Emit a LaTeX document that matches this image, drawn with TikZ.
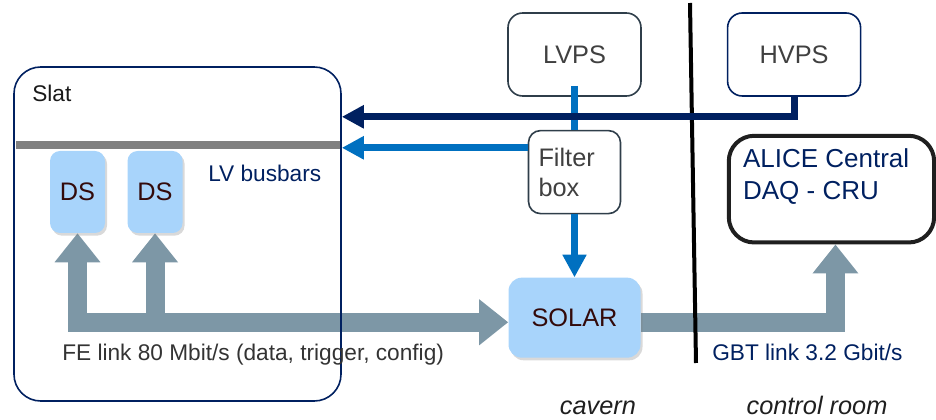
\documentclass[tikz,border=0pt]{standalone}
\usepackage{fontspec}
\setmainfont{Liberation Sans}
\usepackage{tikz}
\usetikzlibrary{arrows.meta,positioning,calc,shadows}

\definecolor{navy}{HTML}{002060}
\definecolor{midblue}{HTML}{0070C0}
\definecolor{linkgray}{HTML}{7D97A6}
\definecolor{chipblue}{HTML}{A8D4FB}
\definecolor{slate}{HTML}{2F3E4A}
\definecolor{chiptext}{HTML}{330A0A}
\definecolor{boxtext}{HTML}{404040}

\newcommand{\boxfont}{\fontsize{19}{22.5}\selectfont}
\newcommand{\notefont}{\fontsize{17}{20}\selectfont}

\pgfdeclarelayer{background}
\pgfsetlayers{background,main}

\begin{document}
\begin{tikzpicture}[
    x=0.75pt, y=-0.75pt,
    slatbox/.style={rectangle, draw=navy, line width=1.2pt, rounded corners=20pt, minimum width=245.25pt, minimum height=250.5pt},
    chip/.style={rectangle, fill=chipblue, rounded corners=7.5pt, text=chiptext, font=\boxfont, drop shadow={shadow xshift=1.5pt, shadow yshift=-2pt, opacity=0.3}},
    psbox/.style={rectangle, draw=slate, fill=white, line width=1.2pt, rounded corners=11pt, minimum width=99.75pt, minimum height=62.25pt, text=boxtext, font=\boxfont},
    crubox/.style={rectangle, draw=black!88, line width=3pt, rounded corners=19pt, minimum width=154pt, minimum height=80pt},
    fatlink/.style={line width=14.25pt, draw=linkgray, -{Triangle[width=33pt, length=21.75pt]}},
    lvline/.style={line width=5.5pt, draw=midblue},
    hvline/.style={line width=5.25pt, draw=navy},
    busbar/.style={line width=6pt, draw=black!50},
    divider/.style={line width=3pt, draw=black},
    note/.style={font=\notefont, inner sep=0pt}
]
    \useasboundingbox (0,0) rectangle (936,420);

    % slat with its front-end chips
    \node [slatbox] (slat) at (177.5,234) {};
    \node [note, anchor=west, text=black!90] (slatlbl) at (32,93) {Slat};
    \draw [busbar] (16,145) -- (340,145);
    \node [chip, minimum width=41.25pt, minimum height=61.5pt] (ds1) at (77.5,192) {DS};
    \node [chip, minimum width=41.25pt, minimum height=61.5pt, right=16.5pt of ds1] (ds2) {DS};
    \node [note, anchor=west, text=navy] (buslbl) at (208,173) {LV busbars};

    % power supplies and readout
    \node [psbox] (lvps) at (574.5,54.5) {LVPS};
    \node [psbox, draw=navy, right=63.75pt of lvps] (hvps) {HVPS};
    \node [psbox, minimum width=0pt, text width=54pt, inner xsep=7.5pt, align=left, rounded corners=9pt, below=24.75pt of lvps] (filter) {Filter\\box};
    \node [chip, minimum width=99pt, minimum height=60pt, rounded corners=10pt, below=47.25pt of filter] (solar) {SOLAR};
    \node [crubox, below=27.75pt of hvps.south west, anchor=north west] (cru) {};
    \node [note, font=\fontsize{19.5}{24}\selectfont, text=navy, align=left, anchor=north west] (crulbl) at ($(cru.north west)+(16,15)$) {ALICE Central\\DAQ - CRU};

    \draw [divider] (690,3) -- (696,363);

    % links
    \coordinate (fe) at ($(ds1.south)+(0,89)$);
    \begin{pgfonlayer}{background}
        \draw [fatlink, line cap=rect] (fe) -- (ds1.south);
        \draw [fatlink] (fe -| ds2.south) -- (ds2.south);
        \draw [fatlink, line cap=rect] (fe) -- (fe -| solar.west);
        \draw [fatlink] (fe -| solar.east) -| ([xshift=3pt]cru.south);
    \end{pgfonlayer}

    % supply lines
    \coordinate (lvin) at ($(filter.north west)+(0,18)$);
    \coordinate (hvbend) at ($(hvps.south)+(0,20)$);
    \draw [lvline] ($(lvps.south)+(0,-11)$) -- (filter.north);
    \draw [lvline, -{Triangle[width=16.5pt, length=16.5pt]}] (lvin) -- (lvin -| slat.east);
    \draw [lvline, -{Triangle[width=17pt, length=17pt]}] (filter.south) -- (solar.north);
    \draw [hvline, -{Triangle[width=16.5pt, length=16.5pt]}] (hvps.south) -- (hvbend) -- (hvbend -| slat.east);

    \node [note, anchor=west, text=black!80] (felbl) at (62,355) {FE link 80 Mbit/s (data, trigger, config)};
    \node [note, anchor=west, text=navy] (gbtlbl) at (712,352) {GBT link 3.2 Gbit/s};
    \node [note, font=\boxfont\itshape, text=black!88] (cavern) at (598,408) {cavern};
    \node [note, font=\boxfont\itshape, text=black!88] (ctrlroom) at (817,405) {control room};
\end{tikzpicture}
\end{document}
